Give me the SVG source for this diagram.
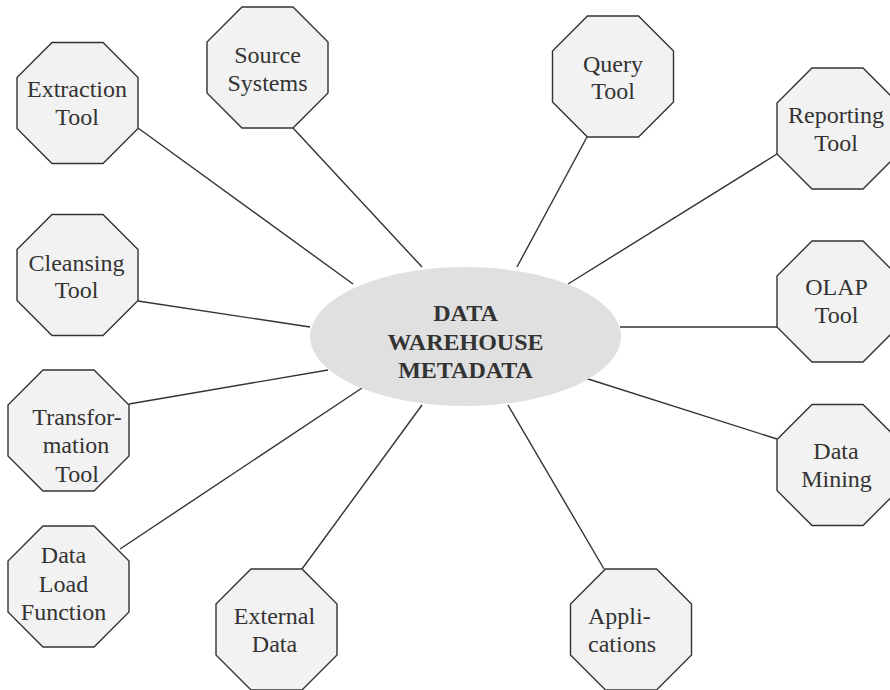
<svg xmlns="http://www.w3.org/2000/svg" width="890" height="690" viewBox="0 0 890 690">
<style>
.oct{fill:#f2f2f2;stroke:#333;stroke-width:1.4}
text{font-family:'Liberation Serif','Times New Roman',serif;font-size:24px;fill:#333;text-anchor:middle}
.c{font-weight:bold}
.s{text-anchor:start}
.ln{stroke:#333;stroke-width:1.4;fill:none}
</style>
<defs>
<polygon id="o" points="-25.5,-60.5 25.5,-60.5 60.5,-25.5 60.5,25.5 25.5,60.5 -25.5,60.5 -60.5,25.5 -60.5,-25.5"/>
</defs>
<rect width="890" height="690" fill="#fff"/>
<g id="connectors" class="ln">
<line x1="138" y1="128" x2="353" y2="284"/>
<line x1="293" y1="128" x2="422" y2="267"/>
<line x1="587" y1="137" x2="517" y2="267"/>
<line x1="777" y1="154" x2="568" y2="284"/>
<line x1="138" y1="301" x2="310" y2="327"/>
<line x1="777" y1="327" x2="620" y2="327"/>
<line x1="129" y1="404" x2="328" y2="370"/>
<line x1="777" y1="439" x2="585" y2="378"/>
<line x1="120" y1="549" x2="362" y2="388"/>
<line x1="302" y1="569" x2="422" y2="405"/>
<line x1="604" y1="569" x2="508" y2="405"/>
</g>
<g id="center">
<ellipse cx="465.5" cy="336.5" rx="155.5" ry="69.5" fill="#e0e0e0"/>
<text class="c" x="465.5" y="321">DATA</text>
<text class="c" x="465.5" y="350">WAREHOUSE</text>
<text class="c" x="465.5" y="378">METADATA</text>
</g>
<g id="extraction">
<use href="#o" class="oct" transform="translate(77.5,103)"/>
<text x="77" y="97">Extraction</text>
<text x="77" y="125">Tool</text>
</g>
<g id="source">
<use href="#o" class="oct" transform="translate(267.5,67.5)"/>
<text x="267.5" y="62.5">Source</text>
<text x="267.5" y="90.5">Systems</text>
</g>
<g id="query">
<use href="#o" class="oct" transform="translate(613,76.5)"/>
<text x="613" y="72">Query</text>
<text x="613" y="99">Tool</text>
</g>
<g id="reporting">
<use href="#o" class="oct" transform="translate(837.5,128.5)"/>
<text x="836" y="123">Reporting</text>
<text x="836" y="151">Tool</text>
</g>
<g id="cleansing">
<use href="#o" class="oct" transform="translate(77.5,275)"/>
<text x="76.5" y="271">Cleansing</text>
<text x="76.5" y="298">Tool</text>
</g>
<g id="olap">
<use href="#o" class="oct" transform="translate(837.5,301.5)"/>
<text x="836.5" y="295">OLAP</text>
<text x="836.5" y="323">Tool</text>
</g>
<g id="transformation">
<use href="#o" class="oct" transform="translate(68.5,430.5)"/>
<text x="77" y="425">Transfor-</text>
<text x="76" y="453">mation</text>
<text x="77" y="482">Tool</text>
</g>
<g id="mining">
<use href="#o" class="oct" transform="translate(837.5,465)"/>
<text x="836" y="459">Data</text>
<text x="836.5" y="487">Mining</text>
</g>
<g id="dataload">
<use href="#o" class="oct" transform="translate(68.5,586.5)"/>
<text x="63.5" y="563">Data</text>
<text x="63.5" y="592">Load</text>
<text x="63.5" y="620">Function</text>
</g>
<g id="external">
<use href="#o" class="oct" transform="translate(276.5,629.5)"/>
<text x="274.5" y="624">External</text>
<text x="274.5" y="652">Data</text>
</g>
<g id="applications">
<use href="#o" class="oct" transform="translate(631,629.5)"/>
<text class="s" x="588" y="624">Appli-</text>
<text class="s" x="588" y="652">cations</text>
</g>
</svg>
